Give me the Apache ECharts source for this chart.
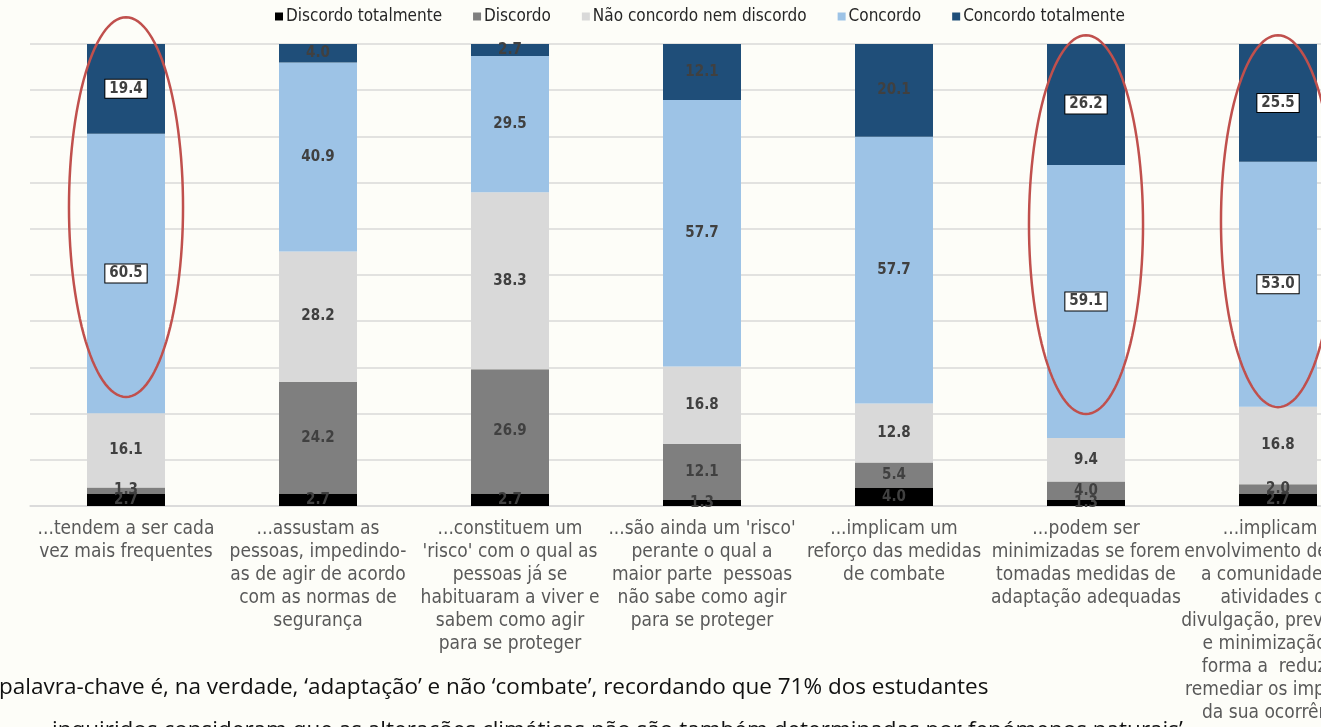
<!DOCTYPE html>
<html><head><meta charset="utf-8">
<script src="https://cdn.jsdelivr.net/npm/echarts@6/dist/echarts.min.js"></script>
<style>html,body{margin:0;padding:0;background:#fdfdf8;overflow:hidden;width:1321px;height:727px}#c{width:1400px;height:727px}</style>
</head><body><div id="c"></div>
<script>
const categories = [
  "...tendem a ser cada\nvez mais frequentes",
  "...assustam as\npessoas, impedindo-\nas de agir de acordo\ncom as normas de\nsegurança",
  "...constituem um\n'risco' com o qual as\npessoas já se\nhabituaram a viver e\nsabem como agir\npara se proteger",
  "...são ainda um 'risco'\nperante o qual a\nmaior parte  pessoas\nnão sabe como agir\npara se proteger",
  "...implicam um\nreforço das medidas\nde combate",
  "...podem ser\nminimizadas se forem\ntomadas medidas de\nadaptação adequadas",
  "...implicam o\nenvolvimento de toda\na comunidade em\natividades de\ndivulgação, prevenção\ne minimização de\nforma a  reduzir e\nremediar os impactos\nda sua ocorrência"
];
const seriesNames = ["Discordo totalmente","Discordo","Não concordo nem discordo","Concordo","Concordo totalmente"];
const discordoTotalmente = [2.7, 2.7, 2.7, 1.3, 4.0, 1.3, 2.7];
const discordo           = [1.3, 24.2, 26.9, 12.1, 5.4, 4.0, 2.0];
const naoConcordo        = [16.1, 28.2, 38.3, 16.8, 12.8, 9.4, 16.8];
const concordo           = [60.5, 40.9, 29.5, 57.7, 57.7, 59.1, 53.0];
const concordoTotalmente = [19.4, 4.0, 2.7, 12.1, 20.1, 26.2, 25.5];
const highlighted = [0, 5, 6];
// annotation ellipses: [category index, top value, bottom value]
const ellipses = [[0, 105.8, 23.6], [5, 101.9, 19.9], [6, 101.9, 21.4]];
const bodyLine1 = "palavra-chave é, na verdade, ‘adaptação’ e não ‘combate’, recordando que 71% dos estudantes";
const bodyLine2 = "inquiridos consideram que as alterações climáticas não são também determinadas por fenómenos naturais’";

const colors = ["#000000", "#7f7f7f", "#d9d9d9", "#9dc3e6", "#1f4e79"];
const values = [discordoTotalmente, discordo, naoConcordo, concordo, concordoTotalmente];
const chart = echarts.init(document.getElementById('c'));
const baseLabel = {show: true, position: 'inside', color: '#404040', fontSize: 15, fontWeight: 'bold',
  fontFamily: 'DejaVu Sans Condensed', formatter: p => p.value.toFixed(1)};
const series = seriesNames.map((name, si) => ({
  name, type: 'bar', stack: 'total', barWidth: 78, itemStyle: {color: colors[si]},
  label: baseLabel,
  data: values[si].map((v, ci) => {
    const d = {value: v};
    if (si >= 3 && highlighted.includes(ci)) {
      d.label = Object.assign({}, baseLabel, {backgroundColor: '#ffffff', borderColor: '#000000', borderWidth: 1, padding: [2, 4, 1, 4], color: '#404040'});
    }
    return d;
  })
}));
chart.setOption({
  backgroundColor: '#fdfdf8',
  animation: false,
  legend: {
    left: 270, top: 3, icon: 'rect', itemWidth: 8, itemHeight: 8, itemGap: 31,
    textStyle: {fontSize: 17, color: '#262626', fontFamily: 'DejaVu Sans Condensed', padding: [0, 0, 0, -2]},
    data: seriesNames
  },
  grid: {left: 30, top: 44, width: 1344, height: 462, containLabel: false},
  xAxis: {
    type: 'category', data: categories,
    axisLine: {lineStyle: {color: '#d9d9d9', width: 1.5}}, axisTick: {show: false},
    axisLabel: {interval: 0, margin: 12, fontSize: 19, lineHeight: 23, color: '#595959', fontFamily: 'DejaVu Sans Condensed', align: 'center'}
  },
  yAxis: {
    type: 'value', min: 0, max: 100, interval: 10,
    axisLabel: {show: false}, axisLine: {show: false}, axisTick: {show: false},
    splitLine: {lineStyle: {color: '#d9d9d9', width: 1.5}}
  },
  series
});
const bw = chart.convertToPixel({xAxisIndex: 0}, 1) - chart.convertToPixel({xAxisIndex: 0}, 0);
const graphics = ellipses.map(([ci, top, bot]) => {
  const cx = chart.convertToPixel({xAxisIndex: 0}, ci);
  const yt = chart.convertToPixel({yAxisIndex: 0}, top);
  const yb = chart.convertToPixel({yAxisIndex: 0}, bot);
  const cy = (yt + yb) / 2, ry = (yb - yt) / 2, rx = bw * 0.297;
  const pts = [];
  for (let i = 0; i < 120; i++) { const a = i / 120 * Math.PI * 2; pts.push([cx + rx * Math.cos(a), cy + ry * Math.sin(a)]); }
  return {type: 'polygon', shape: {points: pts}, style: {fill: 'none', stroke: '#c0504d', lineWidth: 2.5}, z: 100};
});
graphics.push({type: 'text', left: -1, top: 676, style: {text: bodyLine1, fontSize: 22.5, fill: '#111', fontFamily: 'Open Sans'}});
graphics.push({type: 'text', left: 52, top: 719, style: {text: bodyLine2, fontSize: 22.5, fill: '#111', fontFamily: 'Open Sans'}});
chart.setOption({graphic: graphics});
</script></body></html>
